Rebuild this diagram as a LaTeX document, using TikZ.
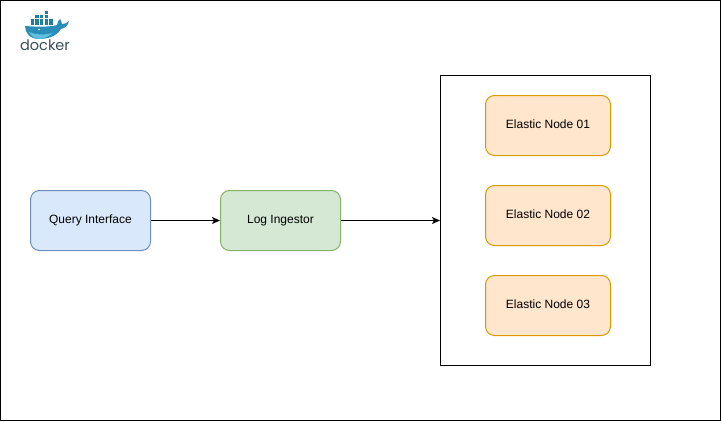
\documentclass[tikz,border=0pt]{standalone}
\usepackage{fontspec}
\setmainfont{Liberation Sans}
\newfontfamily\logofont{Poppins}
\usetikzlibrary{arrows.meta}
\definecolor{queryfill}{HTML}{DAE8FC}
\definecolor{querydraw}{HTML}{6C8EBF}
\definecolor{logfill}{HTML}{D5E8D4}
\definecolor{logdraw}{HTML}{82B366}
\definecolor{elasticfill}{HTML}{FFE6CC}
\definecolor{elasticdraw}{HTML}{D79B00}
\definecolor{whaleblue}{HTML}{2A8DB8}
\definecolor{whalelight}{HTML}{5FC0DE}
\definecolor{boxblue}{HTML}{1F7F9E}
\definecolor{logogray}{HTML}{3A4D54}
\tikzset{
    block/.style = {draw, rectangle, rounded corners=9pt, line width=1pt,
        minimum height=60pt,
        minimum width=120pt, align=center, text height=9pt, text depth=3pt,
        font=\fontsize{12}{14}\selectfont},
    query/.style = {block, fill=queryfill, draw=querydraw},
    ingest/.style = {block, fill=logfill, draw=logdraw},
    elastic/.style = {block, fill=elasticfill, draw=elasticdraw, minimum width=125pt},
    frame/.style = {draw, rectangle, inner sep=0pt, line width=1pt},
    arrow/.style = {draw, line width=1pt, -{Stealth[length=8pt,width=7pt,inset=2pt]}},
    crate/.style = {fill=boxblue, draw=white, line width=0.3pt}
}
\begin{document}
\begin{tikzpicture}[x=1pt,y=-1pt]
    \useasboundingbox (0,0) rectangle (721,421);
    \node [frame, minimum width=720pt, minimum height=420pt] (outer) at (360.5,210.5) {};
    \node [query] (query) at (90.5,220.5) {Query Interface};
    \node [ingest, right of=query, node distance=190pt] (ingest) {Log Ingestor};
    \node [frame, right of=ingest, node distance=265pt, minimum width=210pt, minimum height=290pt] (cluster) {};
    \node [elastic, right of=ingest, node distance=267.5pt, yshift=5pt] (node2) {Elastic Node 02};
    \node [elastic, above of=node2, node distance=90pt] (node1) {Elastic Node 01};
    \node [elastic, below of=node2, node distance=90pt] (node3) {Elastic Node 03};
    \draw [arrow] (query) -- (ingest);
    \draw [arrow] (ingest) -- (cluster);
    % docker logo
    \fill [whaleblue] (25,26) .. controls (38,27) and (50,27) .. (57,25)
        .. controls (57,22) and (59,20) .. (60,19) .. controls (61,21) and (62,22) .. (62,24)
        .. controls (65,24) and (67,23) .. (69,21) .. controls (68,26) and (65,28) .. (61,29)
        .. controls (57,36) and (48,39) .. (39,39) .. controls (30,39) and (25,33) .. (25,26) -- cycle;
    \fill [whalelight] (29,32) .. controls (36,35) and (45,35) .. (53,33)
        .. controls (48,37) and (43,39) .. (39,39) .. controls (35,39) and (31,36) .. (29,32) -- cycle;
    \fill [white] (39,29.5) circle (0.8);
    \foreach \col in {0,...,4}
        \fill [crate] (30+4.6*\col,18.5) rectangle +(4.4,6.5);
    \foreach \col in {1,2,3}
        \fill [crate] (30+4.6*\col,14.5) rectangle +(4.4,4);
    \fill [crate] (43.8,10) rectangle +(4.4,4.5);
    \node [inner sep=0pt, text=logogray, font=\logofont\fontsize{14.5}{15}\selectfont] (logo) at (45,45) {docker};
\end{tikzpicture}
\end{document}
